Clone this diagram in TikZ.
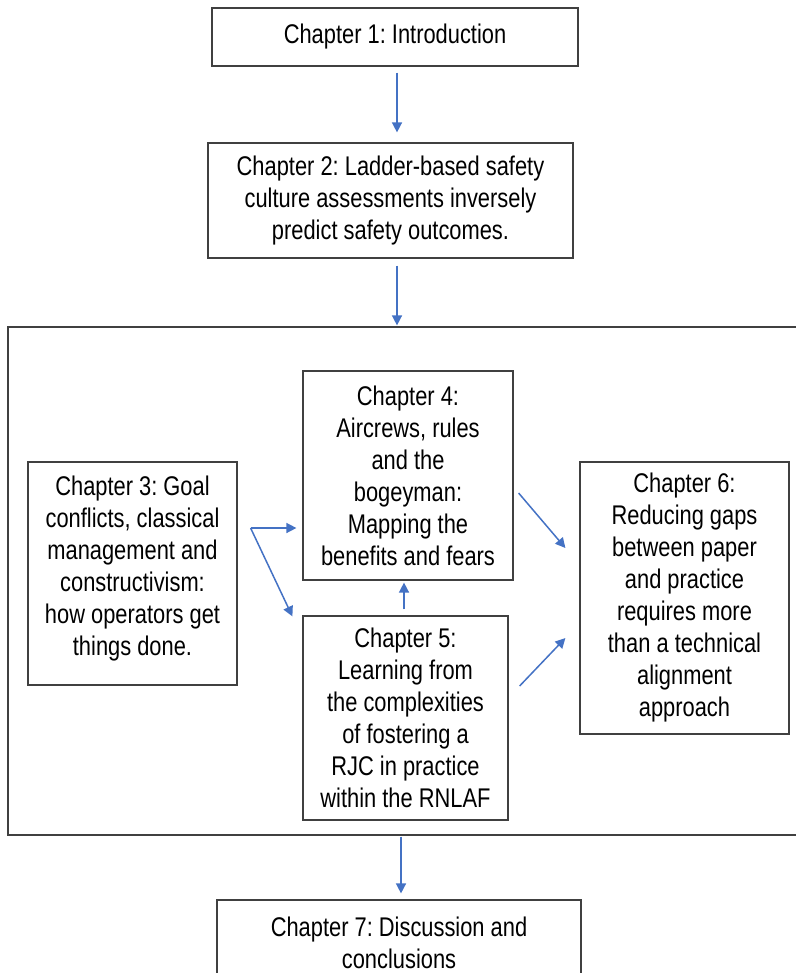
\documentclass[tikz,border=0pt]{standalone}
\usepackage{fontspec}
\setmainfont[FakeStretch=0.81]{Liberation Sans}
\usetikzlibrary{arrows.meta,calc}
\definecolor{arrowblue}{HTML}{4472C4}
\definecolor{boxgray}{HTML}{404040}
\frenchspacing

\begin{document}
\begin{tikzpicture}[x=0.5pt,y=-0.5pt,
  chapter/.style={draw=boxgray,line width=0.6pt,align=center,inner sep=0pt,
    font=\fontsize{13.5}{16}\selectfont},
  arr/.style={arrowblue,line width=0.75pt,-{Triangle[length=5pt,width=5pt]}}]
  \useasboundingbox (0,0) rectangle (796,973);
  \clip (0,0) rectangle (796,973);
  % the frame round chapters 3 to 6
  \node[draw=boxgray,line width=0.6pt,minimum width=406pt,minimum height=254pt] (core) at (414,581) {};
  \node[chapter,minimum width=183pt,minimum height=29pt] (ch1) at (395,37) {Chapter 1: Introduction};
  \node[chapter,minimum width=182.5pt,minimum height=57.5pt] (ch2) at (390.5,200.5)
    {Chapter 2: Ladder-based safety\\culture assessments inversely\\predict safety outcomes.};
  \node[chapter,minimum width=104.5pt,minimum height=111.5pt] (ch3) at (132.5,573.5)
    {Chapter 3: Goal\\conflicts, classical\\management and\\constructivism:\\how operators get\\things done.\\[-8pt]};
  \node[chapter,minimum width=105pt,minimum height=104.5pt] (ch4) at (408,475.5)
    {Chapter 4:\\Aircrews, rules\\and the\\bogeyman:\\Mapping the\\benefits and fears};
  \node[chapter,minimum width=102.5pt,minimum height=102pt] (ch5) at (405.5,718)
    {Chapter 5:\\Learning from\\the complexities\\of fostering a\\RJC in practice\\within the RNLAF};
  \node[chapter,minimum width=104.5pt,minimum height=136pt] (ch6) at (684.5,598)
    {Chapter 6:\\Reducing gaps\\between paper\\and practice\\requires more\\than a technical\\alignment\\approach};
  \node[chapter,minimum width=182pt,minimum height=43pt] (ch7) at (399,943)
    {Chapter 7: Discussion and\\conclusions};
  % arrows
  \draw[arr,shorten <=3pt,shorten >=5pt] ([xshift=1pt]ch1.south) -- ([xshift=1pt]ch1.south |- ch2.north);
  \draw[arr,shorten <=3.5pt,shorten >=0.5pt] ([xshift=3.25pt]ch2.south) -- ([xshift=3.25pt]ch2.south |- core.north);
  \coordinate (fork) at ($(ch3.east)+(13,-45.5)$);
  \draw[arr,shorten >=3pt] (fork) -- (fork -| ch4.west);
  \draw[arr] (fork) -- ($(ch5.north west)+(-10,1)$);
  \draw[arr,shorten <=3pt,shorten >=1pt] ([xshift=-0.75pt]ch5.north) -- ([xshift=-0.75pt]ch5.north |- ch4.south);
  \draw[arr] ($(ch4.east)+(5,17.5)$) -- ($(ch6.west)+(-14,-50)$);
  \draw[arr] ($(ch5.east)+(11,-32)$) -- ($(ch6.west)+(-14,40)$);
  \draw[arr,shorten <=0.5pt,shorten >=3pt] ([xshift=1pt]ch7.north |- core.south) -- ([xshift=1pt]ch7.north);
\end{tikzpicture}
\end{document}
